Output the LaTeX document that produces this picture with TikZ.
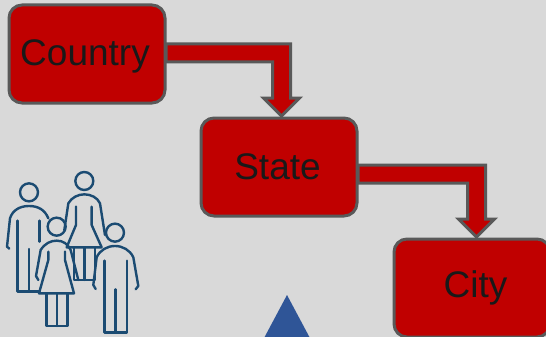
\documentclass[tikz,border=0pt]{standalone}
\usepackage{xcolor}
\usepackage{fontspec}
\setmainfont{Liberation Sans}
\usetikzlibrary{calc}

\definecolor{boxred}{HTML}{C00000}
\definecolor{boxgray}{HTML}{595959}
\definecolor{peopleblue}{HTML}{1B4B72}
\definecolor{triblue}{HTML}{2F5597}

\tikzset{
  levelbox/.style={draw=boxgray,fill=boxred,line width=3pt,rounded corners=13pt,
    minimum width=156pt,minimum height=98pt,inner sep=0pt,outer sep=0pt,
    text=black!90,font=\fontsize{37}{37}\selectfont},
  bentarrow/.style={draw=boxgray,fill=boxred,line width=3pt,miter limit=10},
  person/.style={draw=peopleblue,line width=2.4pt,line join=round,line cap=round}
}

\newcommand{\bentconnector}[2]{%
  \draw[bentarrow] ($(#1)+(0,-9)$) -| ($(#2)+(9,-18)$) -- ++(9,0) -- (#2)
    -- ++(-18,-18) -- ++(9,0) |- ($(#1)+(0,9)$) -- cycle;
}

\begin{document}
\begin{tikzpicture}[x=1pt,y=-1pt]
    \useasboundingbox (0,0) rectangle (546,337);
    \clip (0,0) rectangle (546,337);
    \fill[black!15] (0,0) rectangle (546,337);

    \node[levelbox] (country) at (87,54) {\smash{\raisebox{-12pt}{Country}}\hspace*{4pt}};
    \node[levelbox] (state) at (279,167) {State\hspace*{3pt}};
    \node[levelbox] (city) at (472,288) {\hspace*{7pt}City};

    \coordinate (c1) at ([yshift=1pt,xshift=1pt]country.east);
    \coordinate (t1) at ([xshift=2.5pt,yshift=2pt]state.north);
    \coordinate (c2) at ([yshift=-7pt,xshift=1pt]state.east);
    \coordinate (t2) at ([xshift=4.5pt,yshift=2pt]city.north);
    \bentconnector{c1}{t1}
    \bentconnector{c2}{t2}

    % triangle at the bottom
    \fill[triblue] (287,295) -- (311,340) -- (263,340) -- cycle;

    % people, drawn in units of a third of a pixel
    \begin{scope}[shift={(0,170)},x=0.3333pt,y=-0.3333pt,person]
      % left man
      \draw (87,67) circle (27);
      \draw (28,236) -- (21,230) -- (30,145) .. controls (38,120) and (60,108) .. (87,108)
        .. controls (115,108) and (135,120) .. (145,145);
      \draw (53,152) -- (53,365) -- (118,365);
      \draw (118,152) -- (118,215);
      \draw (87,237) -- (87,365);
      % back woman
      \draw (253,33) circle (27);
      \draw (193,180) -- (205,100) .. controls (215,82) and (235,73) .. (253,73)
        .. controls (272,73) and (292,82) .. (300,100) -- (315,195);
      \draw (228,110) -- (228,165) -- (200,232) -- (305,232) -- (275,165) -- (275,110);
      \draw (222,232) -- (222,330) -- (285,330) -- (285,232);
      \draw (253,232) -- (253,330);
      % girl
      \draw (170,170) circle (27);
      \draw (115,330) -- (108,318) -- (122,240) .. controls (135,220) and (152,212) .. (170,212)
        .. controls (190,212) and (203,222) .. (212,240) -- (235,330);
      \draw (145,245) -- (145,270) -- (117,370) -- (222,370) -- (195,270) -- (195,245);
      \draw (140,370) -- (140,468) -- (203,468) -- (203,370);
      \draw (171,370) -- (171,468);
      % front boy
      \draw (345,188) circle (27);
      \draw (287,357) -- (280,345) -- (290,262) .. controls (300,240) and (322,228) .. (345,228)
        .. controls (368,228) and (390,240) .. (400,262) -- (415,348) -- (407,358);
      \draw (314,272) -- (314,487) -- (381,487) -- (381,272);
      \draw (347,358) -- (347,487);
    \end{scope}
\end{tikzpicture}
\end{document}
